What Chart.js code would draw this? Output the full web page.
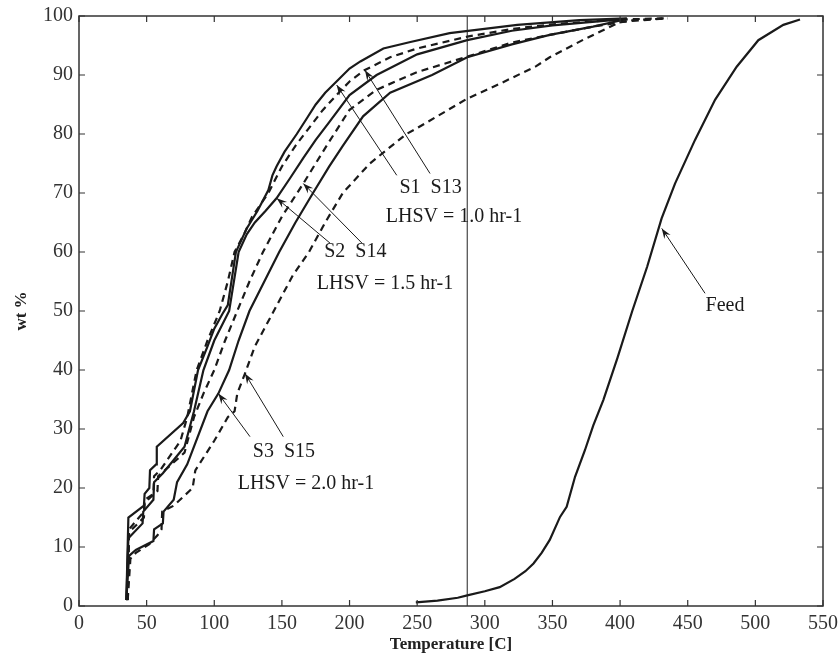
<!DOCTYPE html>
<html>
<head>
<meta charset="utf-8">
<script src="https://cdn.jsdelivr.net/npm/chart.js@4.4.1/dist/chart.umd.min.js"></script>
<style>
  body { margin: 0; background: #fff; }
  #wrap { width: 838px; height: 659px; }
</style>
</head>
<body>
<div id="wrap"><canvas id="distChart" width="838" height="659"></canvas></div>
<script>
// Distillation curves: temperature [C] vs wt %
const s1Temp = [35, 36.5, 48, 48.5, 52, 52.5, 57, 57.5, 77, 82, 88, 95, 100, 106, 110, 113, 116, 124, 132, 140, 143, 146, 152, 161, 168, 175, 182, 190, 200, 208, 225, 245, 274, 324, 370, 405];
const s1Wt   = [1, 15, 17, 19, 20, 23, 24, 27, 31, 33, 40, 44, 47, 49.5, 51, 55.5, 60, 64, 67, 70.5, 73, 74.5, 77, 80, 82.5, 85, 87, 88.8, 91.1, 92.3, 94.5, 95.6, 97.1, 98.5, 99.3, 99.6];

const s13Temp = [36, 37, 48, 48.5, 55, 55.5, 60, 75, 80, 87, 95, 104, 110, 115, 122, 128, 140, 150, 160, 170, 180, 190, 200, 211, 230, 250, 287, 320, 350, 400, 433];
const s13Wt   = [1, 13, 16, 18, 19, 22, 23, 28, 32, 40, 45, 50, 55, 60, 63, 66, 70, 74.5, 78, 81, 84, 86.5, 88.9, 90.8, 93, 94.5, 96.5, 97.8, 98.6, 99.4, 99.6];

const s2Temp = [35, 36.5, 47, 47.5, 55, 55.5, 62, 78, 85, 92, 100, 111, 118, 124, 130, 138, 146, 156, 166, 175, 185, 200, 220, 250, 287, 320, 350, 405];
const s2Wt   = [1, 11.5, 14, 16, 18, 21, 22.5, 27, 33, 40, 45, 50, 60, 63, 65, 67, 69.1, 72.5, 76, 79, 82, 86.6, 90, 93.5, 95.9, 97.5, 98.4, 99.5];

const s14Temp = [36, 37, 48, 48.5, 58, 58.5, 78, 85, 92, 100, 108, 117, 126, 136, 150, 165.8, 183, 200, 220, 250, 287, 320, 348, 380, 410, 435];
const s14Wt   = [1, 12.5, 15, 17.5, 19.5, 22, 26, 32, 36, 40, 45, 50, 55, 60, 66, 71.6, 78, 84.1, 87.5, 90.5, 93.1, 95.5, 96.8, 98.2, 99.3, 99.6];

const s3Temp = [35, 37, 42, 55, 55.5, 62, 62.5, 70, 72.5, 80, 85, 95, 103, 111, 118, 126, 137, 148, 160, 173, 185, 195, 210, 230, 261, 287, 320, 348, 380, 405];
const s3Wt   = [1, 8.5, 9.5, 11, 13, 14, 16, 18, 21, 24, 27, 33, 36, 40, 45, 50, 55, 60, 65, 70, 74.5, 78, 83, 87, 90, 93, 95.2, 96.8, 98.2, 99.5];

const s15Temp = [36, 38, 42, 52, 58, 61, 61.5, 70, 84, 86, 100, 110, 115, 117, 122.7, 130, 144, 158, 170, 182, 195, 215, 242, 250, 287, 311, 338, 348, 373, 400, 435];
const s15Wt   = [1, 8, 9, 10.5, 12, 13, 16, 17, 20, 23, 28, 32, 33, 36, 39.4, 44, 50, 56, 60, 65, 70, 75, 80, 81, 86, 88.5, 91.5, 93, 96, 99, 99.6];

const feedTemp = [249, 265, 280, 287, 300, 311, 322, 330, 336, 342, 348, 355.6, 360.5, 366.7, 374, 380.2, 387.6, 398, 409, 420, 430.7, 440.6, 455.4, 470.2, 486.2, 502.2, 520.7, 533];
const feedWt   = [0.6, 0.9, 1.4, 1.8, 2.5, 3.2, 4.6, 5.9, 7.2, 9.0, 11.2, 15.1, 16.8, 21.9, 26.4, 30.6, 34.9, 42, 50, 57.5, 65.7, 71.6, 79, 85.8, 91.4, 95.9, 98.5, 99.4];

// thin vertical reference line
const refTemp = [287, 287];
const refWt = [0, 100];

// annotation text (data units)
const labelText = ['S1  S13', 'LHSV = 1.0 hr-1', 'S2  S14', 'LHSV = 1.5 hr-1', 'S3  S15', 'LHSV = 2.0 hr-1', 'Feed'];
const labelTemp = [259.9, 277.2, 204.3, 226.2, 151.5, 167.8, 477.6];
const labelWt   = [70.9, 65.9, 60.1, 54.6, 26.2, 20.8, 50.9];

// arrows: tail -> tip (data units)
const arrowTailTemp = [234.9, 259.5, 185.6, 209.2, 126.4, 151.0, 462.8];
const arrowTailWt   = [73.0, 73.3, 61.5, 61.5, 28.7, 28.7, 53.0];
const arrowTipTemp  = [190.5, 211.4, 146.2, 165.8, 103.0, 122.7, 430.8];
const arrowTipWt    = [88.3, 90.8, 69.1, 71.6, 36.0, 39.4, 64.0];

const ink = '#1a1a1a';
const serif = "'Liberation Serif', 'Times New Roman', serif";

function zip(xs, ys) {
    const out = [];
    for (let i = 0; i < xs.length; i++) {
        out.push({ x: xs[i], y: ys[i] });
    }
    return out;
}

function series(label, xs, ys, dashed) {
    return {
        label: label,
        data: zip(xs, ys),
        borderColor: ink,
        borderWidth: 2.2,
        borderDash: dashed ? [7, 5] : [],
        pointRadius: 0,
        tension: 0,
        fill: false
    };
}

// frame, inward ticks, arrows and labels
const framePlugin = {
    id: 'framePlugin',
    afterDatasetsDraw(chart) {
        const ctx = chart.ctx;
        const a = chart.chartArea;
        const xs = chart.scales.x;
        const ys = chart.scales.y;
        const tick = 6;
        ctx.save();
        ctx.strokeStyle = '#333';
        ctx.lineWidth = 1.5;
        ctx.strokeRect(a.left, a.top, a.right - a.left, a.bottom - a.top);
        ctx.lineWidth = 1.2;
        ctx.beginPath();
        xs.ticks.forEach(t => {
            const px = xs.getPixelForValue(t.value);
            ctx.moveTo(px, a.bottom); ctx.lineTo(px, a.bottom - tick);
            ctx.moveTo(px, a.top); ctx.lineTo(px, a.top + tick);
        });
        ys.ticks.forEach(t => {
            const py = ys.getPixelForValue(t.value);
            ctx.moveTo(a.left, py); ctx.lineTo(a.left + tick, py);
            ctx.moveTo(a.right, py); ctx.lineTo(a.right - tick, py);
        });
        ctx.stroke();

        // arrows
        ctx.strokeStyle = ink;
        ctx.fillStyle = ink;
        ctx.lineWidth = 1;
        for (let i = 0; i < arrowTipTemp.length; i++) {
            const x0 = xs.getPixelForValue(arrowTailTemp[i]);
            const y0 = ys.getPixelForValue(arrowTailWt[i]);
            const x1 = xs.getPixelForValue(arrowTipTemp[i]);
            const y1 = ys.getPixelForValue(arrowTipWt[i]);
            const ang = Math.atan2(y1 - y0, x1 - x0);
            ctx.beginPath();
            ctx.moveTo(x0, y0);
            ctx.lineTo(x1, y1);
            ctx.stroke();
            const len = 11, wid = 0.35;
            ctx.beginPath();
            ctx.moveTo(x1, y1);
            ctx.lineTo(x1 - len * Math.cos(ang - wid), y1 - len * Math.sin(ang - wid));
            ctx.lineTo(x1 - len * 0.6 * Math.cos(ang), y1 - len * 0.6 * Math.sin(ang));
            ctx.lineTo(x1 - len * Math.cos(ang + wid), y1 - len * Math.sin(ang + wid));
            ctx.closePath();
            ctx.fill();
        }

        // labels
        ctx.font = '20px ' + serif;
        ctx.textAlign = 'center';
        ctx.textBaseline = 'middle';
        for (let i = 0; i < labelText.length; i++) {
            ctx.fillText(labelText[i], xs.getPixelForValue(labelTemp[i]), ys.getPixelForValue(labelWt[i]));
        }
        ctx.restore();
    }
};

const ctx = document.getElementById('distChart').getContext('2d');
const distChart = new Chart(ctx, {
    type: 'line',
    data: {
        datasets: [
            {
                label: 'ref',
                data: zip(refTemp, refWt),
                borderColor: '#222',
                borderWidth: 1,
                pointRadius: 0
            },
            series('S1', s1Temp, s1Wt, false),
            series('S13', s13Temp, s13Wt, true),
            series('S2', s2Temp, s2Wt, false),
            series('S14', s14Temp, s14Wt, true),
            series('S3', s3Temp, s3Wt, false),
            series('S15', s15Temp, s15Wt, true),
            series('Feed', feedTemp, feedWt, false)
        ]
    },
    options: {
        responsive: false,
        animation: false,
        layout: { padding: { left: 0, right: 15, top: 16, bottom: 0 } },
        plugins: {
            legend: { display: false },
            tooltip: { enabled: false }
        },
        scales: {
            x: {
                type: 'linear',
                min: 0,
                max: 550,
                ticks: { stepSize: 50, padding: 6, color: '#333', font: { family: serif, size: 20 } },
                grid: { display: false, drawTicks: false },
                border: { display: false },
                title: { display: true, text: 'Temperature [C]', color: '#222', padding: { top: 0, bottom: 4 },
                         font: { family: serif, size: 17, weight: 'bold' } },
                afterFit: s => { s.height = 53; s.paddingRight = 0; s.paddingLeft = 0; }
            },
            y: {
                min: 0,
                max: 100,
                ticks: { stepSize: 10, padding: 6, color: '#333', font: { family: serif, size: 20 } },
                grid: { display: false, drawTicks: false },
                border: { display: false },
                title: { display: true, text: 'wt %', color: '#222', padding: { top: 11, bottom: 0 },
                         font: { family: serif, size: 17, weight: 'bold' } },
                afterFit: s => { s.width = 79; s.paddingTop = 0; s.paddingBottom = 0; }
            }
        }
    },
    plugins: [framePlugin]
});
</script>
</body>
</html>
